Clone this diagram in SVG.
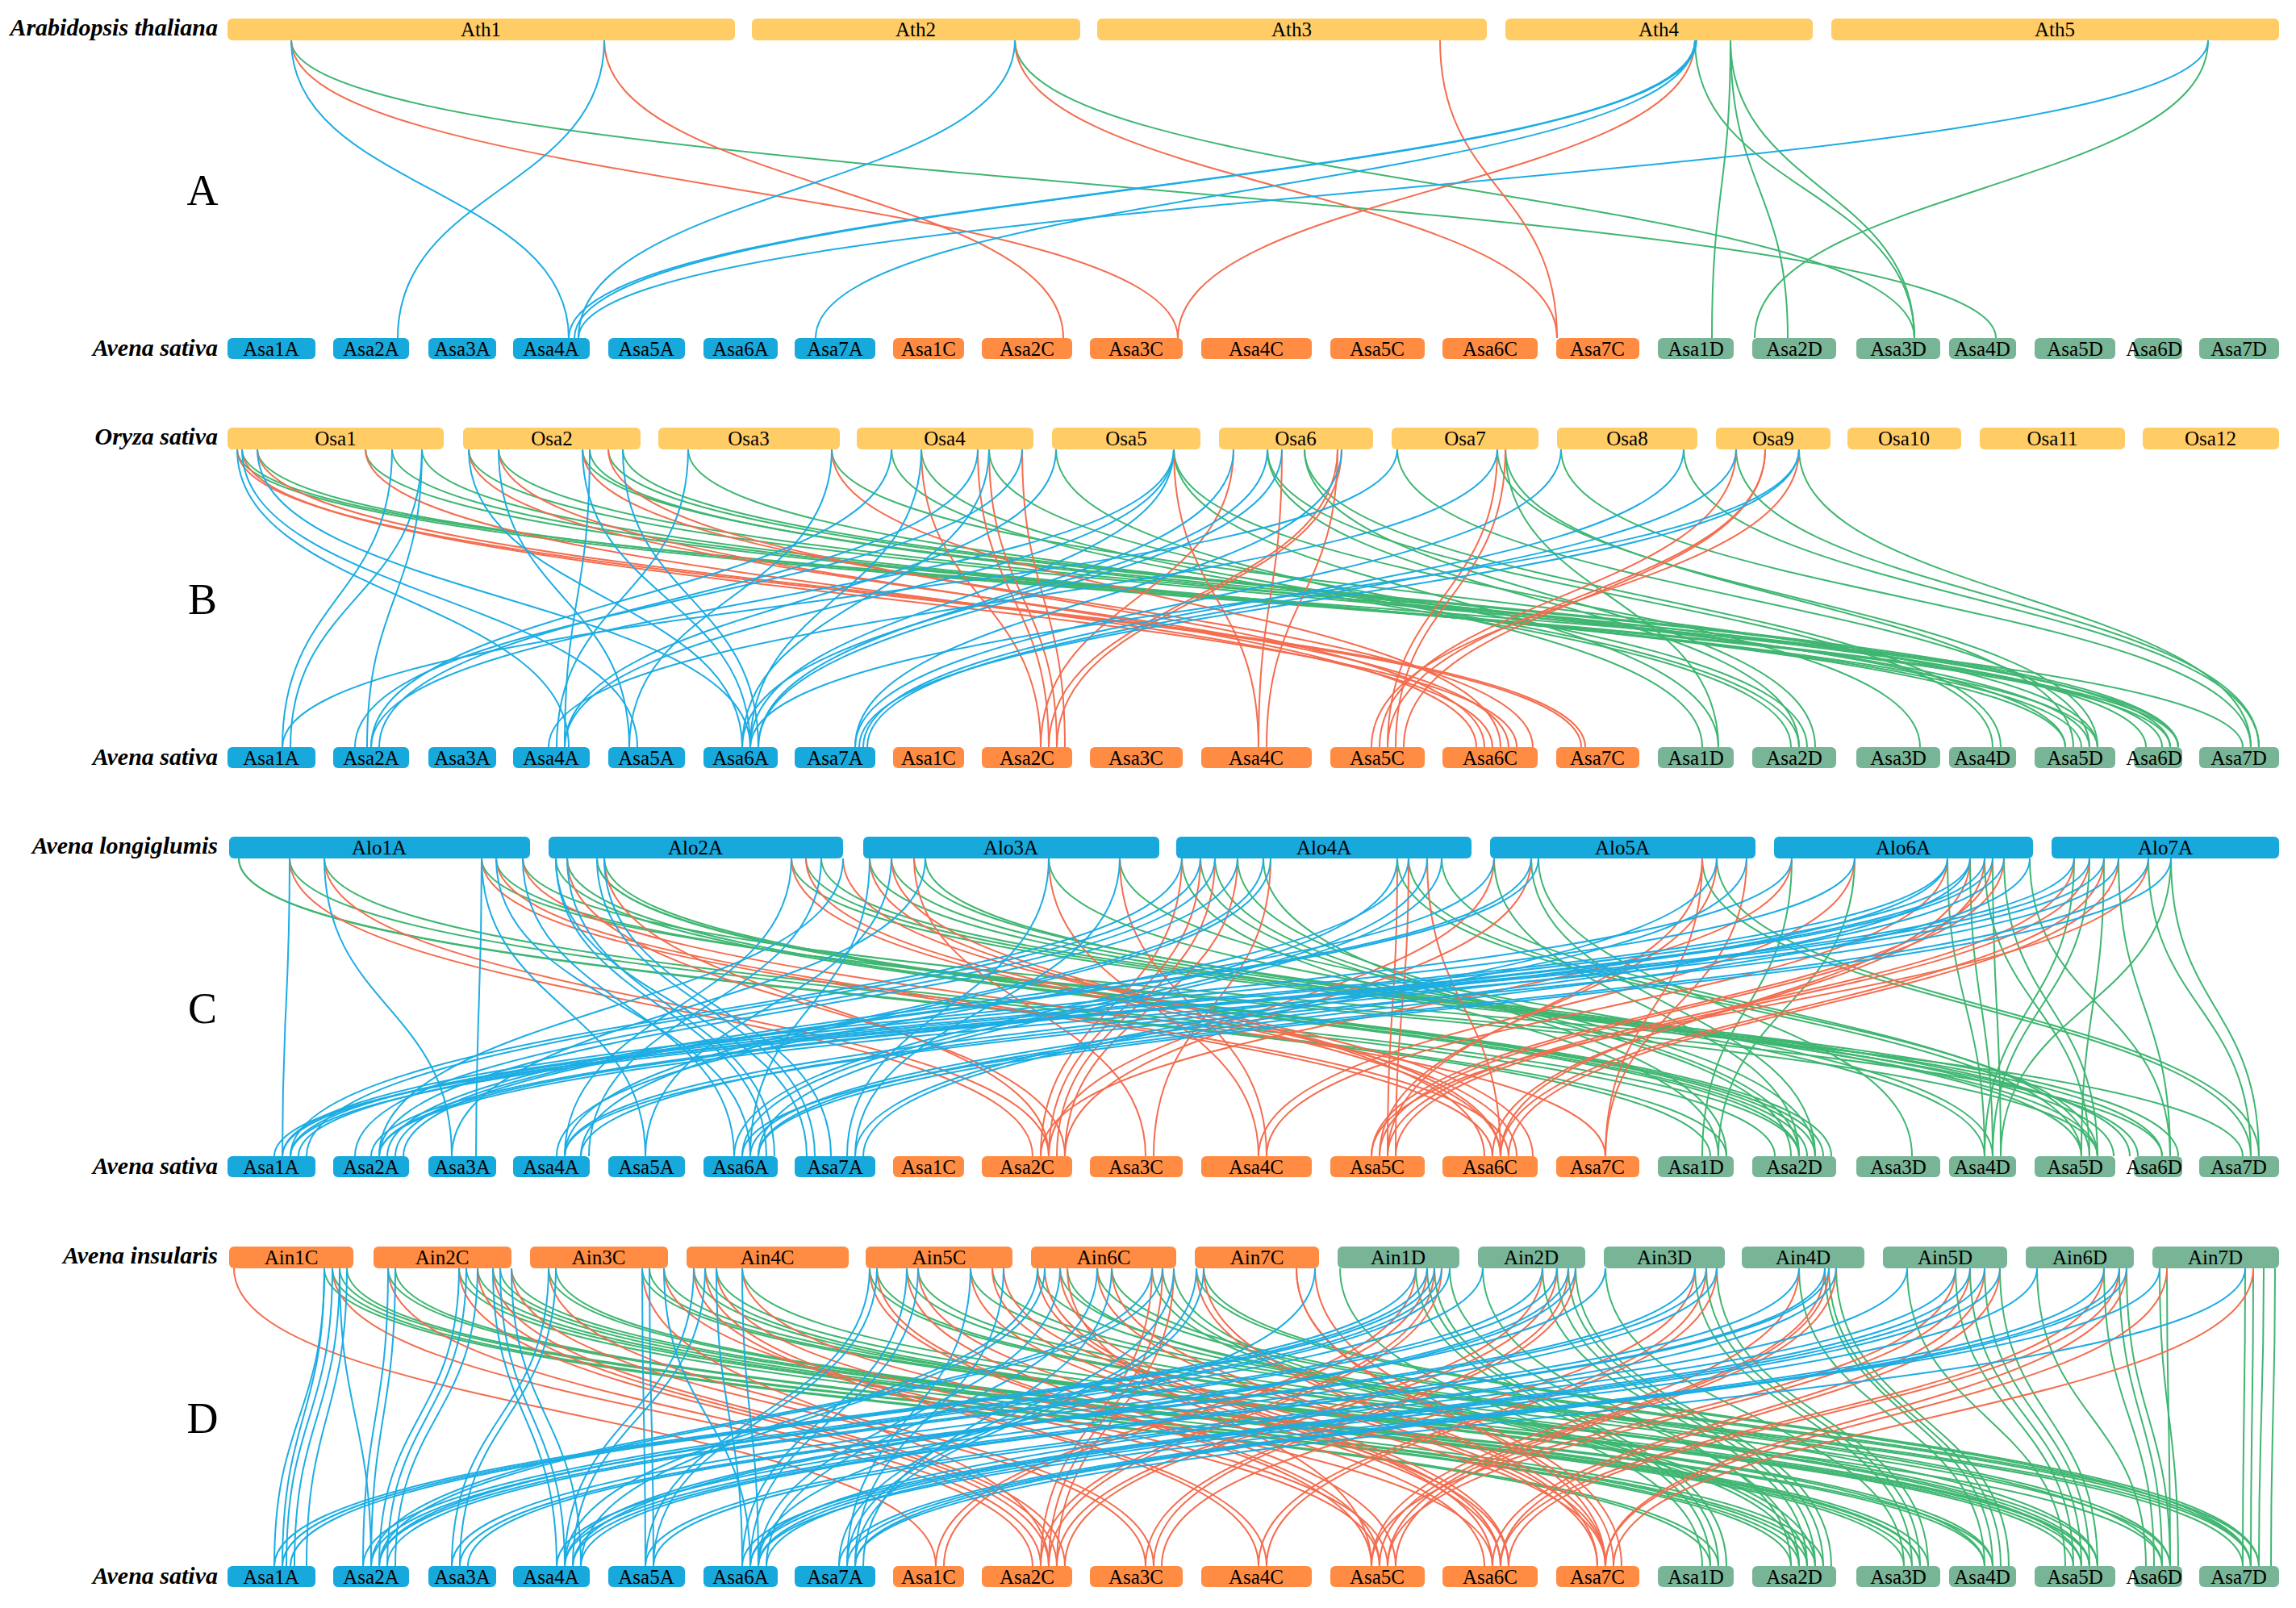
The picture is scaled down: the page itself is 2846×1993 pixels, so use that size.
<svg xmlns="http://www.w3.org/2000/svg" width="2846" height="1993" viewBox="0 0 2846 1993">
<style>
.yl{fill:#FFCC66}.bl{fill:#17A8DC}.or{fill:#FF8C42}.gn{fill:#78B597}
text{font-family:"Liberation Serif","Times New Roman",serif;fill:#000}
.lb{font-size:25px;text-anchor:middle}
.sp{font-size:30px;font-style:italic;font-weight:bold;text-anchor:end}
.pl{font-size:54px;text-anchor:middle}
#connectors path{fill:none;stroke-width:2}
.b path{stroke:#1CADE4}.r path{stroke:#F46D4F}.g path{stroke:#3FB671}
</style>
<rect width="2846" height="1993" fill="#fff"/>
<g id="connectors">
<g id="panelA">
<g class="g"><path d="M361 50C361 234 2474 234 2474 419"/><path d="M1258 50C1258 234 2373 234 2373 419"/><path d="M2145 50C2145 234 2122 234 2122 419"/><path d="M2101 50C2101 234 2373 234 2373 419"/><path d="M2145 50C2145 234 2216 234 2216 419"/><path d="M2145 50C2145 234 2373 234 2373 419"/><path d="M2737 50C2737 234 2175 234 2175 419"/></g>
<g class="r"><path d="M749 50C749 234 1318 234 1318 419"/><path d="M361 50C361 234 1460 234 1460 419"/><path d="M1258 50C1258 234 1930 234 1930 419"/><path d="M1785 50C1785 234 1930 234 1930 419"/><path d="M2101 50C2101 234 1460 234 1460 419"/></g>
<g class="b"><path d="M361 50C361 234 705 234 705 419"/><path d="M749 50C749 234 493 234 493 419"/><path d="M1258 50C1258 234 717 234 717 419"/><path d="M2101 50C2101 234 705 234 705 419"/><path d="M2103 50C2103 234 712 234 712 419"/><path d="M2101 50C2101 234 1011 234 1011 419"/><path d="M2737 50C2737 234 717 234 717 419"/></g>
</g>
<g id="panelB" transform="translate(0,507)">
<g class="g"><path d="M294 50C294 234 2690 234 2690 419"/><path d="M300 50C300 234 2780 234 2780 419"/><path d="M319 50C319 234 2700 234 2700 419"/><path d="M453 50C453 234 2600 234 2600 419"/><path d="M486 50C486 234 2580 234 2580 419"/><path d="M523 50C523 234 2560 234 2560 419"/><path d="M581 50C581 234 2680 234 2680 419"/><path d="M618 50C618 234 2700 234 2700 419"/><path d="M722 50C722 234 2660 234 2660 419"/><path d="M731 50C731 234 2590 234 2590 419"/><path d="M754 50C754 234 2690 234 2690 419"/><path d="M772 50C772 234 2700 234 2700 419"/><path d="M853 50C853 234 2560 234 2560 419"/><path d="M1031 50C1031 234 2600 234 2600 419"/><path d="M1105 50C1105 234 2220 234 2220 419"/><path d="M1142 50C1142 234 2230 234 2230 419"/><path d="M1226 50C1226 234 2240 234 2240 419"/><path d="M1309 50C1309 234 2110 234 2110 419"/><path d="M1455 50C1455 234 2130 234 2130 419"/><path d="M1455 50C1455 234 2380 234 2380 419"/><path d="M1571 50C1571 234 2230 234 2230 419"/><path d="M1571 50C1571 234 2470 234 2470 419"/><path d="M1617 50C1617 234 2480 234 2480 419"/><path d="M1617 50C1617 234 2250 234 2250 419"/><path d="M1732 50C1732 234 2590 234 2590 419"/><path d="M1856 50C1856 234 2600 234 2600 419"/><path d="M1866 50C1866 234 2130 234 2130 419"/><path d="M1866 50C1866 234 2570 234 2570 419"/><path d="M1935 50C1935 234 2790 234 2790 419"/><path d="M2087 50C2087 234 2800 234 2800 419"/><path d="M2152 50C2152 234 2800 234 2800 419"/><path d="M2230 50C2230 234 2790 234 2790 419"/></g>
<g class="r"><path d="M294 50C294 234 1960 234 1960 419"/><path d="M300 50C300 234 1880 234 1880 419"/><path d="M319 50C319 234 1965 234 1965 419"/><path d="M453 50C453 234 1850 234 1850 419"/><path d="M581 50C581 234 1870 234 1870 419"/><path d="M618 50C618 234 1830 234 1830 419"/><path d="M722 50C722 234 1900 234 1900 419"/><path d="M754 50C754 234 1840 234 1840 419"/><path d="M1031 50C1031 234 1860 234 1860 419"/><path d="M1142 50C1142 234 1290 234 1290 419"/><path d="M1212 50C1212 234 1300 234 1300 419"/><path d="M1226 50C1226 234 1310 234 1310 419"/><path d="M1267 50C1267 234 1320 234 1320 419"/><path d="M1455 50C1455 234 1560 234 1560 419"/><path d="M1529 50C1529 234 1290 234 1290 419"/><path d="M1589 50C1589 234 1560 234 1560 419"/><path d="M1658 50C1658 234 1300 234 1300 419"/><path d="M1658 50C1658 234 1570 234 1570 419"/><path d="M1663 50C1663 234 1310 234 1310 419"/><path d="M1856 50C1856 234 1720 234 1720 419"/><path d="M1866 50C1866 234 1730 234 1730 419"/><path d="M2152 50C2152 234 1710 234 1710 419"/><path d="M2188 50C2188 234 1720 234 1720 419"/><path d="M2188 50C2188 234 1740 234 1740 419"/><path d="M2230 50C2230 234 1700 234 1700 419"/></g>
<g class="b"><path d="M294 50C294 234 705 234 705 419"/><path d="M300 50C300 234 790 234 790 419"/><path d="M319 50C319 234 930 234 930 419"/><path d="M486 50C486 234 350 234 350 419"/><path d="M523 50C523 234 360 234 360 419"/><path d="M523 50C523 234 455 234 455 419"/><path d="M581 50C581 234 920 234 920 419"/><path d="M618 50C618 234 780 234 780 419"/><path d="M722 50C722 234 930 234 930 419"/><path d="M731 50C731 234 700 234 700 419"/><path d="M772 50C772 234 940 234 940 419"/><path d="M853 50C853 234 690 234 690 419"/><path d="M1031 50C1031 234 780 234 780 419"/><path d="M1105 50C1105 234 460 234 460 419"/><path d="M1142 50C1142 234 930 234 930 419"/><path d="M1212 50C1212 234 470 234 470 419"/><path d="M1226 50C1226 234 920 234 920 419"/><path d="M1267 50C1267 234 440 234 440 419"/><path d="M1309 50C1309 234 700 234 700 419"/><path d="M1455 50C1455 234 700 234 700 419"/><path d="M1455 50C1455 234 460 234 460 419"/><path d="M1455 50C1455 234 930 234 930 419"/><path d="M1529 50C1529 234 940 234 940 419"/><path d="M1571 50C1571 234 920 234 920 419"/><path d="M1589 50C1589 234 940 234 940 419"/><path d="M1663 50C1663 234 1060 234 1060 419"/><path d="M1732 50C1732 234 350 234 350 419"/><path d="M1856 50C1856 234 680 234 680 419"/><path d="M1935 50C1935 234 1060 234 1060 419"/><path d="M2087 50C2087 234 1070 234 1070 419"/><path d="M2152 50C2152 234 1075 234 1075 419"/><path d="M2230 50C2230 234 930 234 930 419"/><path d="M2230 50C2230 234 1065 234 1065 419"/></g>
</g>
<g id="panelC" transform="translate(0,1014)">
<g class="g"><path d="M296 50C296 234 2120 234 2120 419"/><path d="M296 50C296 234 2140 234 2140 419"/><path d="M359 50C359 234 2200 234 2200 419"/><path d="M402 50C402 234 2230 234 2230 419"/><path d="M597 50C597 234 2680 234 2680 419"/><path d="M615 50C615 234 2600 234 2600 419"/><path d="M648 50C648 234 2780 234 2780 419"/><path d="M689 50C689 234 2230 234 2230 419"/><path d="M703 50C703 234 2240 234 2240 419"/><path d="M740 50C740 234 2250 234 2250 419"/><path d="M740 50C740 234 2260 234 2260 419"/><path d="M749 50C749 234 2270 234 2270 419"/><path d="M981 50C981 234 2650 234 2650 419"/><path d="M999 50C999 234 2680 234 2680 419"/><path d="M1018 50C1018 234 2700 234 2700 419"/><path d="M1078 50C1078 234 2600 234 2600 419"/><path d="M1105 50C1105 234 2620 234 2620 419"/><path d="M1133 50C1133 234 2640 234 2640 419"/><path d="M1147 50C1147 234 2580 234 2580 419"/><path d="M1300 50C1300 234 2460 234 2460 419"/><path d="M1388 50C1388 234 2470 234 2470 419"/><path d="M1465 50C1465 234 2130 234 2130 419"/><path d="M1488 50C1488 234 2220 234 2220 419"/><path d="M1506 50C1506 234 2230 234 2230 419"/><path d="M1534 50C1534 234 2250 234 2250 419"/><path d="M1566 50C1566 234 2140 234 2140 419"/><path d="M1732 50C1732 234 2580 234 2580 419"/><path d="M1746 50C1746 234 2600 234 2600 419"/><path d="M1787 50C1787 234 2590 234 2590 419"/><path d="M1852 50C1852 234 2230 234 2230 419"/><path d="M1898 50C1898 234 2250 234 2250 419"/><path d="M1907 50C1907 234 2370 234 2370 419"/><path d="M2110 50C2110 234 2790 234 2790 419"/><path d="M2128 50C2128 234 2800 234 2800 419"/><path d="M2221 50C2221 234 2110 234 2110 419"/><path d="M2299 50C2299 234 2130 234 2130 419"/><path d="M2414 50C2414 234 2460 234 2460 419"/><path d="M2442 50C2442 234 2470 234 2470 419"/><path d="M2460 50C2460 234 2590 234 2590 419"/><path d="M2470 50C2470 234 2480 234 2480 419"/><path d="M2484 50C2484 234 2600 234 2600 419"/><path d="M2516 50C2516 234 2690 234 2690 419"/><path d="M2571 50C2571 234 2460 234 2460 419"/><path d="M2590 50C2590 234 2470 234 2470 419"/><path d="M2608 50C2608 234 2580 234 2580 419"/><path d="M2626 50C2626 234 2690 234 2690 419"/><path d="M2663 50C2663 234 2790 234 2790 419"/><path d="M2691 50C2691 234 2800 234 2800 419"/><path d="M2691 50C2691 234 2480 234 2480 419"/></g>
<g class="r"><path d="M359 50C359 234 1280 234 1280 419"/><path d="M402 50C402 234 1300 234 1300 419"/><path d="M597 50C597 234 1850 234 1850 419"/><path d="M615 50C615 234 1870 234 1870 419"/><path d="M648 50C648 234 1990 234 1990 419"/><path d="M703 50C703 234 1320 234 1320 419"/><path d="M749 50C749 234 1300 234 1300 419"/><path d="M981 50C981 234 1860 234 1860 419"/><path d="M999 50C999 234 1880 234 1880 419"/><path d="M1045 50C1045 234 1900 234 1900 419"/><path d="M1078 50C1078 234 1860 234 1860 419"/><path d="M1105 50C1105 234 1840 234 1840 419"/><path d="M1133 50C1133 234 1420 234 1420 419"/><path d="M1300 50C1300 234 1560 234 1560 419"/><path d="M1388 50C1388 234 1570 234 1570 419"/><path d="M1465 50C1465 234 1290 234 1290 419"/><path d="M1488 50C1488 234 1300 234 1300 419"/><path d="M1506 50C1506 234 1310 234 1310 419"/><path d="M1534 50C1534 234 1320 234 1320 419"/><path d="M1575 50C1575 234 1430 234 1430 419"/><path d="M1732 50C1732 234 1720 234 1720 419"/><path d="M1746 50C1746 234 1730 234 1730 419"/><path d="M1769 50C1769 234 1860 234 1860 419"/><path d="M1852 50C1852 234 1300 234 1300 419"/><path d="M1898 50C1898 234 1320 234 1320 419"/><path d="M2110 50C2110 234 1990 234 1990 419"/><path d="M2110 50C2110 234 1720 234 1720 419"/><path d="M2128 50C2128 234 1710 234 1710 419"/><path d="M2165 50C2165 234 1990 234 1990 419"/><path d="M2221 50C2221 234 1290 234 1290 419"/><path d="M2299 50C2299 234 1560 234 1560 419"/><path d="M2414 50C2414 234 1570 234 1570 419"/><path d="M2442 50C2442 234 1860 234 1860 419"/><path d="M2460 50C2460 234 1850 234 1850 419"/><path d="M2470 50C2470 234 1700 234 1700 419"/><path d="M2484 50C2484 234 1710 234 1710 419"/><path d="M2571 50C2571 234 1720 234 1720 419"/><path d="M2590 50C2590 234 1730 234 1730 419"/><path d="M2608 50C2608 234 1860 234 1860 419"/><path d="M2626 50C2626 234 1870 234 1870 419"/><path d="M2663 50C2663 234 1700 234 1700 419"/></g>
<g class="b"><path d="M359 50C359 234 350 234 350 419"/><path d="M402 50C402 234 560 234 560 419"/><path d="M597 50C597 234 800 234 800 419"/><path d="M597 50C597 234 590 234 590 419"/><path d="M615 50C615 234 930 234 930 419"/><path d="M648 50C648 234 910 234 910 419"/><path d="M689 50C689 234 950 234 950 419"/><path d="M689 50C689 234 1000 234 1000 419"/><path d="M703 50C703 234 960 234 960 419"/><path d="M740 50C740 234 1010 234 1010 419"/><path d="M749 50C749 234 1030 234 1030 419"/><path d="M981 50C981 234 700 234 700 419"/><path d="M1018 50C1018 234 730 234 730 419"/><path d="M1045 50C1045 234 470 234 470 419"/><path d="M1078 50C1078 234 930 234 930 419"/><path d="M1105 50C1105 234 800 234 800 419"/><path d="M1147 50C1147 234 560 234 560 419"/><path d="M1300 50C1300 234 1050 234 1050 419"/><path d="M1388 50C1388 234 1060 234 1060 419"/><path d="M1465 50C1465 234 360 234 360 419"/><path d="M1488 50C1488 234 380 234 380 419"/><path d="M1506 50C1506 234 440 234 440 419"/><path d="M1534 50C1534 234 470 234 470 419"/><path d="M1566 50C1566 234 700 234 700 419"/><path d="M1575 50C1575 234 720 234 720 419"/><path d="M1732 50C1732 234 910 234 910 419"/><path d="M1746 50C1746 234 690 234 690 419"/><path d="M1769 50C1769 234 920 234 920 419"/><path d="M1787 50C1787 234 940 234 940 419"/><path d="M1852 50C1852 234 480 234 480 419"/><path d="M1898 50C1898 234 490 234 490 419"/><path d="M1907 50C1907 234 500 234 500 419"/><path d="M2128 50C2128 234 1060 234 1060 419"/><path d="M2165 50C2165 234 1070 234 1070 419"/><path d="M2221 50C2221 234 350 234 350 419"/><path d="M2299 50C2299 234 360 234 360 419"/><path d="M2414 50C2414 234 350 234 350 419"/><path d="M2414 50C2414 234 700 234 700 419"/><path d="M2442 50C2442 234 370 234 370 419"/><path d="M2442 50C2442 234 930 234 930 419"/><path d="M2460 50C2460 234 460 234 460 419"/><path d="M2470 50C2470 234 470 234 470 419"/><path d="M2484 50C2484 234 720 234 720 419"/><path d="M2516 50C2516 234 940 234 940 419"/><path d="M2571 50C2571 234 340 234 340 419"/><path d="M2590 50C2590 234 360 234 360 419"/><path d="M2608 50C2608 234 470 234 470 419"/><path d="M2626 50C2626 234 700 234 700 419"/><path d="M2663 50C2663 234 920 234 920 419"/><path d="M2691 50C2691 234 940 234 940 419"/></g>
</g>
<g id="panelD" transform="translate(0,1522)">
<g class="g"><path d="M402 50C402 234 2120 234 2120 419"/><path d="M412 50C412 234 2130 234 2130 419"/><path d="M421 50C421 234 2220 234 2220 419"/><path d="M430 50C430 234 2230 234 2230 419"/><path d="M481 50C481 234 2240 234 2240 419"/><path d="M490 50C490 234 2250 234 2250 419"/><path d="M569 50C569 234 2260 234 2260 419"/><path d="M578 50C578 234 2360 234 2360 419"/><path d="M592 50C592 234 2370 234 2370 419"/><path d="M611 50C611 234 2380 234 2380 419"/><path d="M620 50C620 234 2460 234 2460 419"/><path d="M634 50C634 234 2470 234 2470 419"/><path d="M680 50C680 234 2380 234 2380 419"/><path d="M689 50C689 234 2390 234 2390 419"/><path d="M796 50C796 234 2570 234 2570 419"/><path d="M805 50C805 234 2580 234 2580 419"/><path d="M823 50C823 234 2590 234 2590 419"/><path d="M860 50C860 234 2460 234 2460 419"/><path d="M874 50C874 234 2470 234 2470 419"/><path d="M888 50C888 234 2590 234 2590 419"/><path d="M920 50C920 234 2680 234 2680 419"/><path d="M1078 50C1078 234 2580 234 2580 419"/><path d="M1087 50C1087 234 2590 234 2590 419"/><path d="M1124 50C1124 234 2600 234 2600 419"/><path d="M1138 50C1138 234 2690 234 2690 419"/><path d="M1203 50C1203 234 2780 234 2780 419"/><path d="M1230 50C1230 234 2790 234 2790 419"/><path d="M1286 50C1286 234 2680 234 2680 419"/><path d="M1314 50C1314 234 2690 234 2690 419"/><path d="M1323 50C1323 234 2600 234 2600 419"/><path d="M1360 50C1360 234 2790 234 2790 419"/><path d="M1378 50C1378 234 2800 234 2800 419"/><path d="M1428 50C1428 234 2230 234 2230 419"/><path d="M1441 50C1441 234 2240 234 2240 419"/><path d="M1455 50C1455 234 2250 234 2250 419"/><path d="M1483 50C1483 234 2790 234 2790 419"/><path d="M1492 50C1492 234 2800 234 2800 419"/><path d="M1661 50C1661 234 2110 234 2110 419"/><path d="M1755 50C1755 234 2120 234 2120 419"/><path d="M1769 50C1769 234 2130 234 2130 419"/><path d="M1778 50C1778 234 2140 234 2140 419"/><path d="M1797 50C1797 234 2230 234 2230 419"/><path d="M1838 50C1838 234 2220 234 2220 419"/><path d="M1912 50C1912 234 2240 234 2240 419"/><path d="M1930 50C1930 234 2250 234 2250 419"/><path d="M1944 50C1944 234 2260 234 2260 419"/><path d="M1953 50C1953 234 2270 234 2270 419"/><path d="M1990 50C1990 234 2360 234 2360 419"/><path d="M2101 50C2101 234 2370 234 2370 419"/><path d="M2115 50C2115 234 2380 234 2380 419"/><path d="M2128 50C2128 234 2390 234 2390 419"/><path d="M2230 50C2230 234 2460 234 2460 419"/><path d="M2262 50C2262 234 2470 234 2470 419"/><path d="M2267 50C2267 234 2480 234 2480 419"/><path d="M2276 50C2276 234 2490 234 2490 419"/><path d="M2364 50C2364 234 2560 234 2560 419"/><path d="M2424 50C2424 234 2570 234 2570 419"/><path d="M2442 50C2442 234 2580 234 2580 419"/><path d="M2460 50C2460 234 2590 234 2590 419"/><path d="M2479 50C2479 234 2600 234 2600 419"/><path d="M2525 50C2525 234 2660 234 2660 419"/><path d="M2608 50C2608 234 2670 234 2670 419"/><path d="M2627 50C2627 234 2680 234 2680 419"/><path d="M2636 50C2636 234 2690 234 2690 419"/><path d="M2677 50C2677 234 2700 234 2700 419"/><path d="M2686 50C2686 234 2690 234 2690 419"/><path d="M2783 50C2783 234 2780 234 2780 419"/><path d="M2793 50C2793 234 2790 234 2790 419"/><path d="M2806 50C2806 234 2800 234 2800 419"/><path d="M2820 50C2820 234 2815 234 2815 419"/></g>
<g class="r"><path d="M290 50C290 234 1160 234 1160 419"/><path d="M412 50C412 234 1280 234 1280 419"/><path d="M481 50C481 234 1290 234 1290 419"/><path d="M569 50C569 234 1300 234 1300 419"/><path d="M592 50C592 234 1310 234 1310 419"/><path d="M611 50C611 234 1320 234 1320 419"/><path d="M634 50C634 234 1420 234 1420 419"/><path d="M680 50C680 234 1430 234 1430 419"/><path d="M796 50C796 234 1300 234 1300 419"/><path d="M823 50C823 234 1710 234 1710 419"/><path d="M860 50C860 234 1560 234 1560 419"/><path d="M874 50C874 234 1570 234 1570 419"/><path d="M888 50C888 234 1720 234 1720 419"/><path d="M920 50C920 234 1850 234 1850 419"/><path d="M1078 50C1078 234 1700 234 1700 419"/><path d="M1087 50C1087 234 1710 234 1710 419"/><path d="M1124 50C1124 234 1730 234 1730 419"/><path d="M1138 50C1138 234 1840 234 1840 419"/><path d="M1203 50C1203 234 1860 234 1860 419"/><path d="M1230 50C1230 234 1870 234 1870 419"/><path d="M1244 50C1244 234 1990 234 1990 419"/><path d="M1286 50C1286 234 1850 234 1850 419"/><path d="M1295 50C1295 234 1860 234 1860 419"/><path d="M1314 50C1314 234 1870 234 1870 419"/><path d="M1323 50C1323 234 1700 234 1700 419"/><path d="M1360 50C1360 234 1980 234 1980 419"/><path d="M1378 50C1378 234 1990 234 1990 419"/><path d="M1428 50C1428 234 1290 234 1290 419"/><path d="M1441 50C1441 234 1300 234 1300 419"/><path d="M1455 50C1455 234 1310 234 1310 419"/><path d="M1483 50C1483 234 1980 234 1980 419"/><path d="M1492 50C1492 234 1990 234 1990 419"/><path d="M1607 50C1607 234 1990 234 1990 419"/><path d="M1607 50C1607 234 2000 234 2000 419"/><path d="M1630 50C1630 234 2010 234 2010 419"/><path d="M1755 50C1755 234 1160 234 1160 419"/><path d="M1769 50C1769 234 1170 234 1170 419"/><path d="M1778 50C1778 234 1290 234 1290 419"/><path d="M1787 50C1787 234 1300 234 1300 419"/><path d="M1912 50C1912 234 1310 234 1310 419"/><path d="M1930 50C1930 234 1320 234 1320 419"/><path d="M1944 50C1944 234 1420 234 1420 419"/><path d="M1953 50C1953 234 1430 234 1430 419"/><path d="M2101 50C2101 234 1440 234 1440 419"/><path d="M2115 50C2115 234 1560 234 1560 419"/><path d="M2128 50C2128 234 1570 234 1570 419"/><path d="M2230 50C2230 234 1700 234 1700 419"/><path d="M2262 50C2262 234 1710 234 1710 419"/><path d="M2267 50C2267 234 1720 234 1720 419"/><path d="M2276 50C2276 234 1730 234 1730 419"/><path d="M2424 50C2424 234 1700 234 1700 419"/><path d="M2442 50C2442 234 1720 234 1720 419"/><path d="M2460 50C2460 234 1850 234 1850 419"/><path d="M2479 50C2479 234 1860 234 1860 419"/><path d="M2608 50C2608 234 1860 234 1860 419"/><path d="M2627 50C2627 234 1870 234 1870 419"/><path d="M2636 50C2636 234 1990 234 1990 419"/><path d="M2686 50C2686 234 1990 234 1990 419"/><path d="M2793 50C2793 234 2000 234 2000 419"/></g>
<g class="b"><path d="M402 50C402 234 340 234 340 419"/><path d="M402 50C402 234 350 234 350 419"/><path d="M412 50C412 234 355 234 355 419"/><path d="M421 50C421 234 365 234 365 419"/><path d="M421 50C421 234 460 234 460 419"/><path d="M430 50C430 234 380 234 380 419"/><path d="M481 50C481 234 450 234 450 419"/><path d="M490 50C490 234 460 234 460 419"/><path d="M569 50C569 234 470 234 470 419"/><path d="M578 50C578 234 480 234 480 419"/><path d="M592 50C592 234 490 234 490 419"/><path d="M611 50C611 234 690 234 690 419"/><path d="M620 50C620 234 700 234 700 419"/><path d="M634 50C634 234 720 234 720 419"/><path d="M680 50C680 234 560 234 560 419"/><path d="M689 50C689 234 570 234 570 419"/><path d="M796 50C796 234 800 234 800 419"/><path d="M805 50C805 234 810 234 810 419"/><path d="M823 50C823 234 930 234 930 419"/><path d="M860 50C860 234 700 234 700 419"/><path d="M874 50C874 234 710 234 710 419"/><path d="M888 50C888 234 920 234 920 419"/><path d="M920 50C920 234 940 234 940 419"/><path d="M1078 50C1078 234 800 234 800 419"/><path d="M1087 50C1087 234 810 234 810 419"/><path d="M1124 50C1124 234 920 234 920 419"/><path d="M1138 50C1138 234 930 234 930 419"/><path d="M1203 50C1203 234 1050 234 1050 419"/><path d="M1244 50C1244 234 1060 234 1060 419"/><path d="M1286 50C1286 234 700 234 700 419"/><path d="M1295 50C1295 234 720 234 720 419"/><path d="M1314 50C1314 234 940 234 940 419"/><path d="M1360 50C1360 234 950 234 950 419"/><path d="M1378 50C1378 234 1070 234 1070 419"/><path d="M1428 50C1428 234 460 234 460 419"/><path d="M1441 50C1441 234 470 234 470 419"/><path d="M1455 50C1455 234 1040 234 1040 419"/><path d="M1483 50C1483 234 1050 234 1050 419"/><path d="M1492 50C1492 234 1060 234 1060 419"/><path d="M1630 50C1630 234 940 234 940 419"/><path d="M1755 50C1755 234 340 234 340 419"/><path d="M1769 50C1769 234 350 234 350 419"/><path d="M1778 50C1778 234 360 234 360 419"/><path d="M1787 50C1787 234 450 234 450 419"/><path d="M1797 50C1797 234 470 234 470 419"/><path d="M1838 50C1838 234 460 234 460 419"/><path d="M1912 50C1912 234 470 234 470 419"/><path d="M1930 50C1930 234 480 234 480 419"/><path d="M1944 50C1944 234 700 234 700 419"/><path d="M1953 50C1953 234 710 234 710 419"/><path d="M1990 50C1990 234 560 234 560 419"/><path d="M2101 50C2101 234 570 234 570 419"/><path d="M2115 50C2115 234 580 234 580 419"/><path d="M2128 50C2128 234 690 234 690 419"/><path d="M2230 50C2230 234 700 234 700 419"/><path d="M2262 50C2262 234 710 234 710 419"/><path d="M2267 50C2267 234 720 234 720 419"/><path d="M2276 50C2276 234 930 234 930 419"/><path d="M2364 50C2364 234 800 234 800 419"/><path d="M2424 50C2424 234 810 234 810 419"/><path d="M2442 50C2442 234 920 234 920 419"/><path d="M2460 50C2460 234 930 234 930 419"/><path d="M2479 50C2479 234 940 234 940 419"/><path d="M2525 50C2525 234 950 234 950 419"/><path d="M2608 50C2608 234 1040 234 1040 419"/><path d="M2627 50C2627 234 1050 234 1050 419"/><path d="M2636 50C2636 234 1060 234 1060 419"/><path d="M2677 50C2677 234 940 234 940 419"/><path d="M2783 50C2783 234 1060 234 1060 419"/></g>
</g>
</g>
<g id="labels">
<text class="pl" x="251" y="254">A</text>
<text class="pl" x="251" y="761">B</text>
<text class="pl" x="251" y="1268">C</text>
<text class="pl" x="251" y="1776">D</text>
<text class="sp" x="270" y="44">Arabidopsis thaliana</text>
<text class="sp" x="270" y="441">Avena sativa</text>
<text class="sp" x="270" y="551">Oryza sativa</text>
<text class="sp" x="270" y="948">Avena sativa</text>
<text class="sp" x="270" y="1058">Avena longiglumis</text>
<text class="sp" x="270" y="1455">Avena sativa</text>
<text class="sp" x="270" y="1566">Avena insularis</text>
<text class="sp" x="270" y="1963">Avena sativa</text>
</g>
<g id="nodes">
<g id="Ath1"><rect class="yl" x="282" y="23" width="629" height="27" rx="6"/><text class="lb" x="596" y="45">Ath1</text></g>
<g id="Ath2"><rect class="yl" x="932" y="23" width="407" height="27" rx="6"/><text class="lb" x="1135" y="45">Ath2</text></g>
<g id="Ath3"><rect class="yl" x="1360" y="23" width="483" height="27" rx="6"/><text class="lb" x="1601" y="45">Ath3</text></g>
<g id="Ath4"><rect class="yl" x="1866" y="23" width="381" height="27" rx="6"/><text class="lb" x="2056" y="45">Ath4</text></g>
<g id="Ath5"><rect class="yl" x="2270" y="23" width="555" height="27" rx="6"/><text class="lb" x="2547" y="45">Ath5</text></g>
<g id="Osa1"><rect class="yl" x="282" y="530" width="268" height="27" rx="6"/><text class="lb" x="416" y="552">Osa1</text></g>
<g id="Osa2"><rect class="yl" x="574" y="530" width="220" height="27" rx="6"/><text class="lb" x="684" y="552">Osa2</text></g>
<g id="Osa3"><rect class="yl" x="816" y="530" width="225" height="27" rx="6"/><text class="lb" x="928" y="552">Osa3</text></g>
<g id="Osa4"><rect class="yl" x="1062" y="530" width="219" height="27" rx="6"/><text class="lb" x="1171" y="552">Osa4</text></g>
<g id="Osa5"><rect class="yl" x="1304" y="530" width="184" height="27" rx="6"/><text class="lb" x="1396" y="552">Osa5</text></g>
<g id="Osa6"><rect class="yl" x="1511" y="530" width="191" height="27" rx="6"/><text class="lb" x="1606" y="552">Osa6</text></g>
<g id="Osa7"><rect class="yl" x="1725" y="530" width="182" height="27" rx="6"/><text class="lb" x="1816" y="552">Osa7</text></g>
<g id="Osa8"><rect class="yl" x="1930" y="530" width="174" height="27" rx="6"/><text class="lb" x="2017" y="552">Osa8</text></g>
<g id="Osa9"><rect class="yl" x="2127" y="530" width="142" height="27" rx="6"/><text class="lb" x="2198" y="552">Osa9</text></g>
<g id="Osa10"><rect class="yl" x="2290" y="530" width="141" height="27" rx="6"/><text class="lb" x="2360" y="552">Osa10</text></g>
<g id="Osa11"><rect class="yl" x="2454" y="530" width="180" height="27" rx="6"/><text class="lb" x="2544" y="552">Osa11</text></g>
<g id="Osa12"><rect class="yl" x="2656" y="530" width="169" height="27" rx="6"/><text class="lb" x="2740" y="552">Osa12</text></g>
<g id="Alo1A"><rect class="bl" x="284" y="1037" width="373" height="27" rx="6"/><text class="lb" x="470" y="1059">Alo1A</text></g>
<g id="Alo2A"><rect class="bl" x="680" y="1037" width="365" height="27" rx="6"/><text class="lb" x="862" y="1059">Alo2A</text></g>
<g id="Alo3A"><rect class="bl" x="1070" y="1037" width="367" height="27" rx="6"/><text class="lb" x="1253" y="1059">Alo3A</text></g>
<g id="Alo4A"><rect class="bl" x="1458" y="1037" width="366" height="27" rx="6"/><text class="lb" x="1641" y="1059">Alo4A</text></g>
<g id="Alo5A"><rect class="bl" x="1847" y="1037" width="329" height="27" rx="6"/><text class="lb" x="2011" y="1059">Alo5A</text></g>
<g id="Alo6A"><rect class="bl" x="2199" y="1037" width="321" height="27" rx="6"/><text class="lb" x="2359" y="1059">Alo6A</text></g>
<g id="Alo7A"><rect class="bl" x="2543" y="1037" width="282" height="27" rx="6"/><text class="lb" x="2684" y="1059">Alo7A</text></g>
<g id="Ain1C"><rect class="or" x="284" y="1545" width="154" height="27" rx="6"/><text class="lb" x="361" y="1567">Ain1C</text></g>
<g id="Ain2C"><rect class="or" x="463" y="1545" width="171" height="27" rx="6"/><text class="lb" x="548" y="1567">Ain2C</text></g>
<g id="Ain3C"><rect class="or" x="657" y="1545" width="171" height="27" rx="6"/><text class="lb" x="742" y="1567">Ain3C</text></g>
<g id="Ain4C"><rect class="or" x="851" y="1545" width="201" height="27" rx="6"/><text class="lb" x="951" y="1567">Ain4C</text></g>
<g id="Ain5C"><rect class="or" x="1073" y="1545" width="182" height="27" rx="6"/><text class="lb" x="1164" y="1567">Ain5C</text></g>
<g id="Ain6C"><rect class="or" x="1278" y="1545" width="180" height="27" rx="6"/><text class="lb" x="1368" y="1567">Ain6C</text></g>
<g id="Ain7C"><rect class="or" x="1481" y="1545" width="154" height="27" rx="6"/><text class="lb" x="1558" y="1567">Ain7C</text></g>
<g id="Ain1D"><rect class="gn" x="1658" y="1545" width="151" height="27" rx="6"/><text class="lb" x="1733" y="1567">Ain1D</text></g>
<g id="Ain2D"><rect class="gn" x="1832" y="1545" width="133" height="27" rx="6"/><text class="lb" x="1898" y="1567">Ain2D</text></g>
<g id="Ain3D"><rect class="gn" x="1988" y="1545" width="150" height="27" rx="6"/><text class="lb" x="2063" y="1567">Ain3D</text></g>
<g id="Ain4D"><rect class="gn" x="2159" y="1545" width="152" height="27" rx="6"/><text class="lb" x="2235" y="1567">Ain4D</text></g>
<g id="Ain5D"><rect class="gn" x="2334" y="1545" width="154" height="27" rx="6"/><text class="lb" x="2411" y="1567">Ain5D</text></g>
<g id="Ain6D"><rect class="gn" x="2511" y="1545" width="134" height="27" rx="6"/><text class="lb" x="2578" y="1567">Ain6D</text></g>
<g id="Ain7D"><rect class="gn" x="2668" y="1545" width="157" height="27" rx="6"/><text class="lb" x="2746" y="1567">Ain7D</text></g>
<g id="AsaRowA">
<g id="A_Asa1A"><rect class="bl" x="282" y="419" width="109" height="26" rx="6"/><text class="lb" x="336" y="441">Asa1A</text></g>
<g id="A_Asa2A"><rect class="bl" x="413" y="419" width="94" height="26" rx="6"/><text class="lb" x="460" y="441">Asa2A</text></g>
<g id="A_Asa3A"><rect class="bl" x="531" y="419" width="84" height="26" rx="6"/><text class="lb" x="573" y="441">Asa3A</text></g>
<g id="A_Asa4A"><rect class="bl" x="636" y="419" width="95" height="26" rx="6"/><text class="lb" x="683" y="441">Asa4A</text></g>
<g id="A_Asa5A"><rect class="bl" x="754" y="419" width="95" height="26" rx="6"/><text class="lb" x="801" y="441">Asa5A</text></g>
<g id="A_Asa6A"><rect class="bl" x="872" y="419" width="92" height="26" rx="6"/><text class="lb" x="918" y="441">Asa6A</text></g>
<g id="A_Asa7A"><rect class="bl" x="985" y="419" width="100" height="26" rx="6"/><text class="lb" x="1035" y="441">Asa7A</text></g>
<g id="A_Asa1C"><rect class="or" x="1107" y="419" width="88" height="26" rx="6"/><text class="lb" x="1151" y="441">Asa1C</text></g>
<g id="A_Asa2C"><rect class="or" x="1217" y="419" width="112" height="26" rx="6"/><text class="lb" x="1273" y="441">Asa2C</text></g>
<g id="A_Asa3C"><rect class="or" x="1351" y="419" width="115" height="26" rx="6"/><text class="lb" x="1408" y="441">Asa3C</text></g>
<g id="A_Asa4C"><rect class="or" x="1489" y="419" width="137" height="26" rx="6"/><text class="lb" x="1557" y="441">Asa4C</text></g>
<g id="A_Asa5C"><rect class="or" x="1649" y="419" width="117" height="26" rx="6"/><text class="lb" x="1707" y="441">Asa5C</text></g>
<g id="A_Asa6C"><rect class="or" x="1788" y="419" width="118" height="26" rx="6"/><text class="lb" x="1847" y="441">Asa6C</text></g>
<g id="A_Asa7C"><rect class="or" x="1929" y="419" width="103" height="26" rx="6"/><text class="lb" x="1980" y="441">Asa7C</text></g>
<g id="A_Asa1D"><rect class="gn" x="2055" y="419" width="94" height="26" rx="6"/><text class="lb" x="2102" y="441">Asa1D</text></g>
<g id="A_Asa2D"><rect class="gn" x="2172" y="419" width="104" height="26" rx="6"/><text class="lb" x="2224" y="441">Asa2D</text></g>
<g id="A_Asa3D"><rect class="gn" x="2301" y="419" width="104" height="26" rx="6"/><text class="lb" x="2353" y="441">Asa3D</text></g>
<g id="A_Asa4D"><rect class="gn" x="2416" y="419" width="83" height="26" rx="6"/><text class="lb" x="2457" y="441">Asa4D</text></g>
<g id="A_Asa5D"><rect class="gn" x="2522" y="419" width="100" height="26" rx="6"/><text class="lb" x="2572" y="441">Asa5D</text></g>
<g id="A_Asa6D"><rect class="gn" x="2645" y="419" width="60" height="26" rx="6"/><text class="lb" x="2670" y="441">Asa6D</text></g>
<g id="A_Asa7D"><rect class="gn" x="2726" y="419" width="99" height="26" rx="6"/><text class="lb" x="2775" y="441">Asa7D</text></g>
</g>
<g id="AsaRowB">
<g id="B_Asa1A"><rect class="bl" x="282" y="926" width="109" height="26" rx="6"/><text class="lb" x="336" y="948">Asa1A</text></g>
<g id="B_Asa2A"><rect class="bl" x="413" y="926" width="94" height="26" rx="6"/><text class="lb" x="460" y="948">Asa2A</text></g>
<g id="B_Asa3A"><rect class="bl" x="531" y="926" width="84" height="26" rx="6"/><text class="lb" x="573" y="948">Asa3A</text></g>
<g id="B_Asa4A"><rect class="bl" x="636" y="926" width="95" height="26" rx="6"/><text class="lb" x="683" y="948">Asa4A</text></g>
<g id="B_Asa5A"><rect class="bl" x="754" y="926" width="95" height="26" rx="6"/><text class="lb" x="801" y="948">Asa5A</text></g>
<g id="B_Asa6A"><rect class="bl" x="872" y="926" width="92" height="26" rx="6"/><text class="lb" x="918" y="948">Asa6A</text></g>
<g id="B_Asa7A"><rect class="bl" x="985" y="926" width="100" height="26" rx="6"/><text class="lb" x="1035" y="948">Asa7A</text></g>
<g id="B_Asa1C"><rect class="or" x="1107" y="926" width="88" height="26" rx="6"/><text class="lb" x="1151" y="948">Asa1C</text></g>
<g id="B_Asa2C"><rect class="or" x="1217" y="926" width="112" height="26" rx="6"/><text class="lb" x="1273" y="948">Asa2C</text></g>
<g id="B_Asa3C"><rect class="or" x="1351" y="926" width="115" height="26" rx="6"/><text class="lb" x="1408" y="948">Asa3C</text></g>
<g id="B_Asa4C"><rect class="or" x="1489" y="926" width="137" height="26" rx="6"/><text class="lb" x="1557" y="948">Asa4C</text></g>
<g id="B_Asa5C"><rect class="or" x="1649" y="926" width="117" height="26" rx="6"/><text class="lb" x="1707" y="948">Asa5C</text></g>
<g id="B_Asa6C"><rect class="or" x="1788" y="926" width="118" height="26" rx="6"/><text class="lb" x="1847" y="948">Asa6C</text></g>
<g id="B_Asa7C"><rect class="or" x="1929" y="926" width="103" height="26" rx="6"/><text class="lb" x="1980" y="948">Asa7C</text></g>
<g id="B_Asa1D"><rect class="gn" x="2055" y="926" width="94" height="26" rx="6"/><text class="lb" x="2102" y="948">Asa1D</text></g>
<g id="B_Asa2D"><rect class="gn" x="2172" y="926" width="104" height="26" rx="6"/><text class="lb" x="2224" y="948">Asa2D</text></g>
<g id="B_Asa3D"><rect class="gn" x="2301" y="926" width="104" height="26" rx="6"/><text class="lb" x="2353" y="948">Asa3D</text></g>
<g id="B_Asa4D"><rect class="gn" x="2416" y="926" width="83" height="26" rx="6"/><text class="lb" x="2457" y="948">Asa4D</text></g>
<g id="B_Asa5D"><rect class="gn" x="2522" y="926" width="100" height="26" rx="6"/><text class="lb" x="2572" y="948">Asa5D</text></g>
<g id="B_Asa6D"><rect class="gn" x="2645" y="926" width="60" height="26" rx="6"/><text class="lb" x="2670" y="948">Asa6D</text></g>
<g id="B_Asa7D"><rect class="gn" x="2726" y="926" width="99" height="26" rx="6"/><text class="lb" x="2775" y="948">Asa7D</text></g>
</g>
<g id="AsaRowC">
<g id="C_Asa1A"><rect class="bl" x="282" y="1433" width="109" height="26" rx="6"/><text class="lb" x="336" y="1455">Asa1A</text></g>
<g id="C_Asa2A"><rect class="bl" x="413" y="1433" width="94" height="26" rx="6"/><text class="lb" x="460" y="1455">Asa2A</text></g>
<g id="C_Asa3A"><rect class="bl" x="531" y="1433" width="84" height="26" rx="6"/><text class="lb" x="573" y="1455">Asa3A</text></g>
<g id="C_Asa4A"><rect class="bl" x="636" y="1433" width="95" height="26" rx="6"/><text class="lb" x="683" y="1455">Asa4A</text></g>
<g id="C_Asa5A"><rect class="bl" x="754" y="1433" width="95" height="26" rx="6"/><text class="lb" x="801" y="1455">Asa5A</text></g>
<g id="C_Asa6A"><rect class="bl" x="872" y="1433" width="92" height="26" rx="6"/><text class="lb" x="918" y="1455">Asa6A</text></g>
<g id="C_Asa7A"><rect class="bl" x="985" y="1433" width="100" height="26" rx="6"/><text class="lb" x="1035" y="1455">Asa7A</text></g>
<g id="C_Asa1C"><rect class="or" x="1107" y="1433" width="88" height="26" rx="6"/><text class="lb" x="1151" y="1455">Asa1C</text></g>
<g id="C_Asa2C"><rect class="or" x="1217" y="1433" width="112" height="26" rx="6"/><text class="lb" x="1273" y="1455">Asa2C</text></g>
<g id="C_Asa3C"><rect class="or" x="1351" y="1433" width="115" height="26" rx="6"/><text class="lb" x="1408" y="1455">Asa3C</text></g>
<g id="C_Asa4C"><rect class="or" x="1489" y="1433" width="137" height="26" rx="6"/><text class="lb" x="1557" y="1455">Asa4C</text></g>
<g id="C_Asa5C"><rect class="or" x="1649" y="1433" width="117" height="26" rx="6"/><text class="lb" x="1707" y="1455">Asa5C</text></g>
<g id="C_Asa6C"><rect class="or" x="1788" y="1433" width="118" height="26" rx="6"/><text class="lb" x="1847" y="1455">Asa6C</text></g>
<g id="C_Asa7C"><rect class="or" x="1929" y="1433" width="103" height="26" rx="6"/><text class="lb" x="1980" y="1455">Asa7C</text></g>
<g id="C_Asa1D"><rect class="gn" x="2055" y="1433" width="94" height="26" rx="6"/><text class="lb" x="2102" y="1455">Asa1D</text></g>
<g id="C_Asa2D"><rect class="gn" x="2172" y="1433" width="104" height="26" rx="6"/><text class="lb" x="2224" y="1455">Asa2D</text></g>
<g id="C_Asa3D"><rect class="gn" x="2301" y="1433" width="104" height="26" rx="6"/><text class="lb" x="2353" y="1455">Asa3D</text></g>
<g id="C_Asa4D"><rect class="gn" x="2416" y="1433" width="83" height="26" rx="6"/><text class="lb" x="2457" y="1455">Asa4D</text></g>
<g id="C_Asa5D"><rect class="gn" x="2522" y="1433" width="100" height="26" rx="6"/><text class="lb" x="2572" y="1455">Asa5D</text></g>
<g id="C_Asa6D"><rect class="gn" x="2645" y="1433" width="60" height="26" rx="6"/><text class="lb" x="2670" y="1455">Asa6D</text></g>
<g id="C_Asa7D"><rect class="gn" x="2726" y="1433" width="99" height="26" rx="6"/><text class="lb" x="2775" y="1455">Asa7D</text></g>
</g>
<g id="AsaRowD">
<g id="D_Asa1A"><rect class="bl" x="282" y="1941" width="109" height="26" rx="6"/><text class="lb" x="336" y="1963">Asa1A</text></g>
<g id="D_Asa2A"><rect class="bl" x="413" y="1941" width="94" height="26" rx="6"/><text class="lb" x="460" y="1963">Asa2A</text></g>
<g id="D_Asa3A"><rect class="bl" x="531" y="1941" width="84" height="26" rx="6"/><text class="lb" x="573" y="1963">Asa3A</text></g>
<g id="D_Asa4A"><rect class="bl" x="636" y="1941" width="95" height="26" rx="6"/><text class="lb" x="683" y="1963">Asa4A</text></g>
<g id="D_Asa5A"><rect class="bl" x="754" y="1941" width="95" height="26" rx="6"/><text class="lb" x="801" y="1963">Asa5A</text></g>
<g id="D_Asa6A"><rect class="bl" x="872" y="1941" width="92" height="26" rx="6"/><text class="lb" x="918" y="1963">Asa6A</text></g>
<g id="D_Asa7A"><rect class="bl" x="985" y="1941" width="100" height="26" rx="6"/><text class="lb" x="1035" y="1963">Asa7A</text></g>
<g id="D_Asa1C"><rect class="or" x="1107" y="1941" width="88" height="26" rx="6"/><text class="lb" x="1151" y="1963">Asa1C</text></g>
<g id="D_Asa2C"><rect class="or" x="1217" y="1941" width="112" height="26" rx="6"/><text class="lb" x="1273" y="1963">Asa2C</text></g>
<g id="D_Asa3C"><rect class="or" x="1351" y="1941" width="115" height="26" rx="6"/><text class="lb" x="1408" y="1963">Asa3C</text></g>
<g id="D_Asa4C"><rect class="or" x="1489" y="1941" width="137" height="26" rx="6"/><text class="lb" x="1557" y="1963">Asa4C</text></g>
<g id="D_Asa5C"><rect class="or" x="1649" y="1941" width="117" height="26" rx="6"/><text class="lb" x="1707" y="1963">Asa5C</text></g>
<g id="D_Asa6C"><rect class="or" x="1788" y="1941" width="118" height="26" rx="6"/><text class="lb" x="1847" y="1963">Asa6C</text></g>
<g id="D_Asa7C"><rect class="or" x="1929" y="1941" width="103" height="26" rx="6"/><text class="lb" x="1980" y="1963">Asa7C</text></g>
<g id="D_Asa1D"><rect class="gn" x="2055" y="1941" width="94" height="26" rx="6"/><text class="lb" x="2102" y="1963">Asa1D</text></g>
<g id="D_Asa2D"><rect class="gn" x="2172" y="1941" width="104" height="26" rx="6"/><text class="lb" x="2224" y="1963">Asa2D</text></g>
<g id="D_Asa3D"><rect class="gn" x="2301" y="1941" width="104" height="26" rx="6"/><text class="lb" x="2353" y="1963">Asa3D</text></g>
<g id="D_Asa4D"><rect class="gn" x="2416" y="1941" width="83" height="26" rx="6"/><text class="lb" x="2457" y="1963">Asa4D</text></g>
<g id="D_Asa5D"><rect class="gn" x="2522" y="1941" width="100" height="26" rx="6"/><text class="lb" x="2572" y="1963">Asa5D</text></g>
<g id="D_Asa6D"><rect class="gn" x="2645" y="1941" width="60" height="26" rx="6"/><text class="lb" x="2670" y="1963">Asa6D</text></g>
<g id="D_Asa7D"><rect class="gn" x="2726" y="1941" width="99" height="26" rx="6"/><text class="lb" x="2775" y="1963">Asa7D</text></g>
</g>
</g>
</svg>
